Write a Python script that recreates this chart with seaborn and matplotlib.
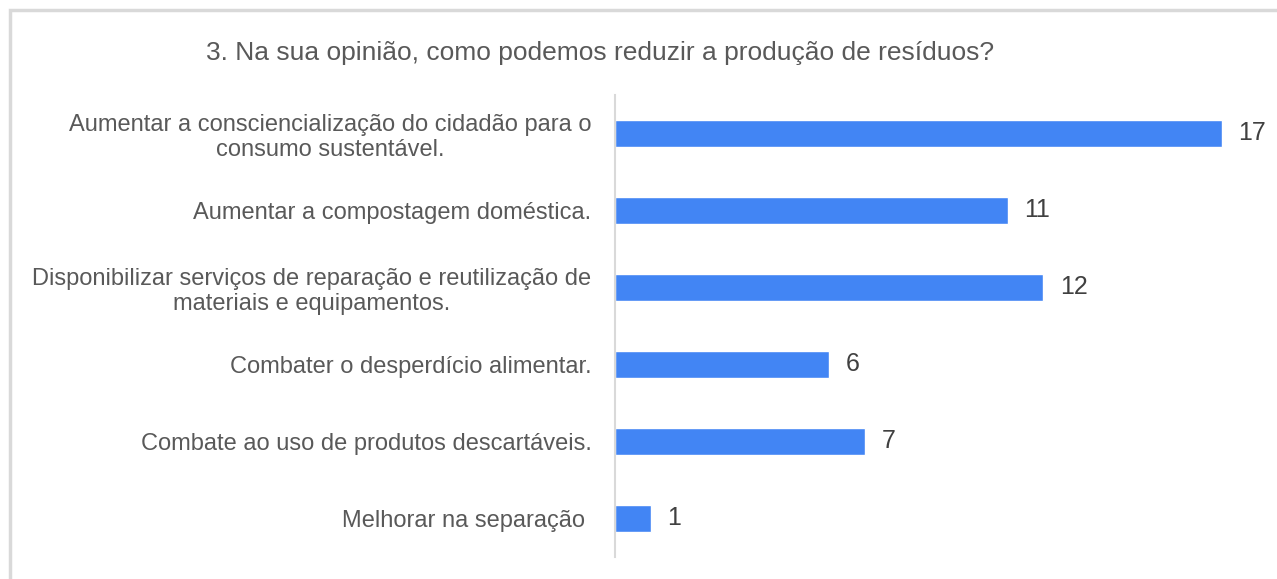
import pandas as pd
import seaborn as sns
import matplotlib.pyplot as plt
from matplotlib.patches import Rectangle

# dados do gráfico
categorias = [
    "Aumentar a consciencialização do cidadão para o\nconsumo sustentável.",
    "Aumentar a compostagem doméstica.",
    "Disponibilizar serviços de reparação e reutilização de\nmateriais e equipamentos.",
    "Combater o desperdício alimentar.",
    "Combate ao uso de produtos descartáveis.",
    "Melhorar na separação ",
]
respostas = [17, 11, 12, 6, 7, 1]
titulo = "3. Na sua opinião, como podemos reduzir a produção de resíduos?"

df = pd.DataFrame({"categoria": categorias, "respostas": respostas})

sns.set_style("white")
plt.rcParams['font.family'] = ['Liberation Sans', 'DejaVu Sans']

fig = plt.figure(figsize=(12.77, 5.79), dpi=100)
ax = fig.add_axes([0.4816, 0.038, 0.5128, 0.798])

sns.barplot(data=df, x="respostas", y="categoria", color="#4285F4",
            width=0.35, saturation=1, ax=ax)

ax.set_xlim(0, 18.35)
ax.set_ylim(5.5, -0.5)
ax.set_xlabel("")
ax.set_ylabel("")
ax.set_xticks([])
for s in ["top", "right", "bottom"]:
    ax.spines[s].set_visible(False)
ax.spines["left"].set_color("#d9d9d9")
ax.spines["left"].set_linewidth(1.5)

ax.tick_params(axis="y", length=0, pad=17, labelsize=17, labelcolor="#595959")
for lbl in ax.get_yticklabels():
    lbl.set_multialignment("center")
    lbl.set_linespacing(1.15)

ax.bar_label(ax.containers[0], padding=12, fontsize=18, color="#404040")

fig.text(0.47, 0.908, titulo, ha="center", va="center", fontsize=19, color="#595959")

# moldura cinza
fig.patches.append(Rectangle((10 / 1277, -0.1), 1.2, (579 - 10) / 579 + 0.1,
                             transform=fig.transFigure, fill=False,
                             edgecolor="#d9d9d9", linewidth=2.5, figure=fig))

fig.savefig("out.png", dpi=100)
